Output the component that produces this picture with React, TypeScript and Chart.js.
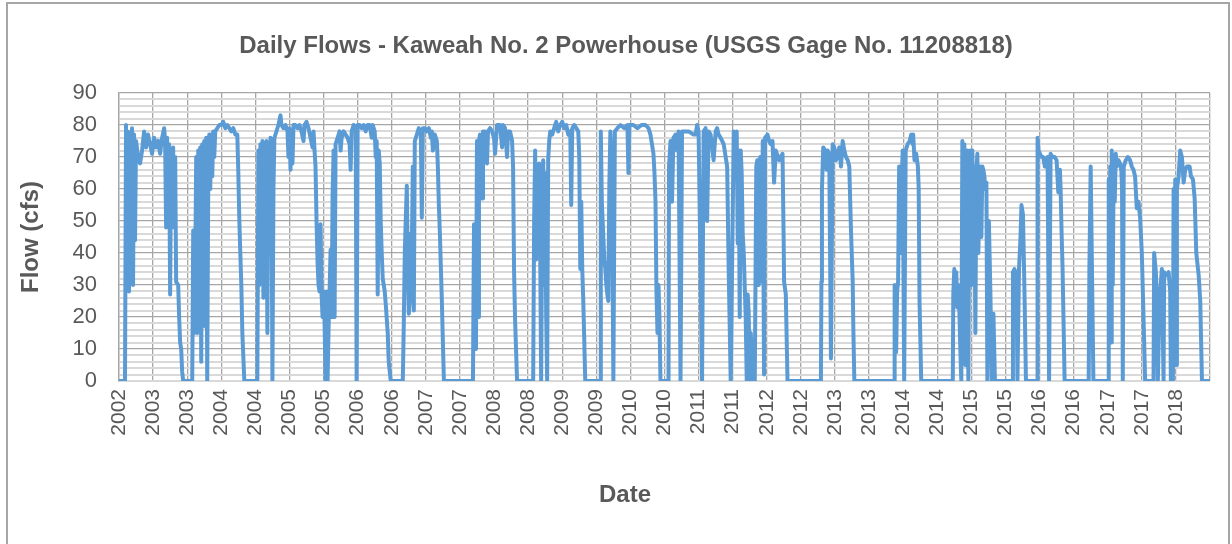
import React, { useEffect, useRef } from "react";
import { Chart, registerables } from "chart.js";

Chart.register(...registerables);

const chartTitle = "Daily Flows - Kaweah No. 2 Powerhouse (USGS Gage No. 11208818)";
const yAxisTitle = "Flow (cfs)";
const xAxisTitle = "Date";

const tickLabels = [
  "2002", "2003", "2003", "2004", "2004", "2005", "2005", "2006", "2006", "2007", "2007",
  "2008", "2008", "2009", "2009", "2010", "2010", "2011", "2011", "2012", "2012", "2013",
  "2013", "2014", "2014", "2015", "2015", "2016", "2016", "2017", "2017", "2018",
];
const axisStart = 2002.75; // Oct 2002
const axisEnd = 2018.75; // Oct 2018
const tickStepYears = 0.5;
const yMin = 0;
const yMax = 90;
const yMinorStep = 2;
const yMajorStep = 10;

// Daily flow (cfs), dates as decimal years, grouped by water year
const wy2003Years = [2002.75, 2002.838, 2002.853, 2002.868, 2002.882, 2002.897, 2002.912, 2002.926, 2002.941, 2002.956, 2002.971, 2002.985, 2003.0, 2003.029, 2003.059, 2003.088, 2003.118, 2003.147, 2003.176, 2003.206, 2003.235, 2003.265, 2003.294, 2003.324, 2003.353, 2003.382, 2003.412, 2003.426, 2003.441, 2003.456, 2003.471, 2003.485, 2003.5, 2003.515, 2003.529, 2003.544, 2003.559, 2003.574, 2003.588, 2003.618, 2003.632, 2003.647, 2003.662, 2003.676, 2003.691];
const wy2003Flows = [0, 0, 80, 30, 78, 28, 76, 45, 79, 30, 77, 44, 75, 70, 68, 72, 78, 73, 77, 74, 71, 76, 73, 75, 71, 76, 79, 75, 48, 76, 50, 74, 27, 72, 50, 73, 48, 70, 31, 30, 20, 12, 10, 3, 0];

const wy2004Years = [2003.824, 2003.838, 2003.853, 2003.868, 2003.882, 2003.897, 2003.912, 2003.926, 2003.941, 2003.956, 2003.971, 2003.985, 2004.0, 2004.015, 2004.029, 2004.044, 2004.059, 2004.074, 2004.088, 2004.103, 2004.118, 2004.132, 2004.147, 2004.162, 2004.191, 2004.221, 2004.25, 2004.279, 2004.309, 2004.338, 2004.368, 2004.397, 2004.426, 2004.456, 2004.485, 2004.5, 2004.515, 2004.529, 2004.544, 2004.559, 2004.588];
const wy2004Flows = [0, 47, 15, 35, 70, 15, 72, 17, 73, 6, 74, 20, 75, 17, 76, 0, 62, 77, 60, 77, 64, 78, 70, 78, 79, 80, 80, 81, 79, 80, 79, 78, 79, 77, 77, 65, 50, 40, 30, 15, 0];

const wy2005Years = [2004.779, 2004.794, 2004.809, 2004.824, 2004.838, 2004.853, 2004.868, 2004.882, 2004.897, 2004.912, 2004.926, 2004.941, 2004.956, 2004.971, 2004.985, 2005.0, 2005.015, 2005.029, 2005.059, 2005.088, 2005.118, 2005.132, 2005.162, 2005.191, 2005.221, 2005.235, 2005.25, 2005.265, 2005.279, 2005.294, 2005.309, 2005.338, 2005.368, 2005.397, 2005.426, 2005.456, 2005.471, 2005.5, 2005.529, 2005.559, 2005.588, 2005.603, 2005.618, 2005.632, 2005.647, 2005.662, 2005.676, 2005.691, 2005.706, 2005.721, 2005.735];
const wy2005Flows = [0, 72, 30, 74, 45, 75, 26, 73, 50, 75, 15, 74, 40, 76, 70, 0, 60, 76, 78, 80, 83, 80, 79, 80, 78, 70, 79, 66, 78, 68, 80, 80, 79, 80, 78, 75, 80, 81, 79, 76, 73, 78, 72, 67, 50, 37, 30, 28, 49, 27, 20];

const wy2006Years = [2005.75, 2005.765, 2005.779, 2005.794, 2005.809, 2005.824, 2005.838, 2005.853, 2005.868, 2005.882, 2005.897, 2005.912, 2005.926, 2005.956, 2005.985, 2006.0, 2006.015, 2006.044, 2006.074, 2006.103, 2006.132, 2006.147, 2006.162, 2006.191, 2006.221, 2006.235, 2006.25, 2006.279, 2006.309, 2006.338, 2006.368, 2006.397, 2006.426, 2006.456, 2006.471, 2006.5, 2006.515, 2006.529, 2006.544, 2006.559, 2006.574, 2006.588, 2006.603, 2006.618, 2006.647, 2006.662, 2006.691, 2006.706, 2006.735];
const wy2006Flows = [28, 18, 0, 28, 0, 17, 28, 41, 20, 58, 72, 20, 74, 76, 78, 72, 76, 78, 77, 76, 74, 66, 78, 80, 79, 0, 80, 80, 79, 80, 78, 80, 80, 76, 80, 78, 70, 75, 27, 72, 68, 50, 40, 32, 28, 24, 15, 6, 0];

const wy2007Years = [2006.912, 2006.926, 2006.941, 2006.956, 2006.971, 2006.985, 2007.0, 2007.015, 2007.029, 2007.044, 2007.059, 2007.074, 2007.088, 2007.118, 2007.147, 2007.176, 2007.191, 2007.206, 2007.235, 2007.265, 2007.294, 2007.324, 2007.338, 2007.353, 2007.382, 2007.412, 2007.426, 2007.441, 2007.456, 2007.471, 2007.485, 2007.5, 2007.515];
const wy2007Flows = [0, 17, 40, 51, 61, 35, 21, 25, 46, 40, 67, 22, 75, 77, 79, 78, 51, 79, 79, 78, 79, 76, 78, 72, 77, 75, 67, 55, 46, 35, 25, 12, 0];

const wy2008Years = [2007.941, 2007.956, 2007.971, 2007.985, 2008.0, 2008.015, 2008.029, 2008.044, 2008.059, 2008.074, 2008.088, 2008.118, 2008.147, 2008.162, 2008.191, 2008.221, 2008.25, 2008.265, 2008.294, 2008.338, 2008.368, 2008.382, 2008.412, 2008.441, 2008.456, 2008.485, 2008.515, 2008.529, 2008.544, 2008.559, 2008.588];
const wy2008Flows = [0, 49, 49, 10, 75, 20, 75, 77, 60, 57, 78, 78, 68, 78, 79, 78, 76, 71, 80, 80, 73, 80, 79, 70, 78, 78, 75, 67, 34, 19, 0];

const wy2009Years = [2008.824, 2008.838, 2008.853, 2008.868, 2008.882, 2008.897, 2008.912, 2008.926, 2008.941, 2008.956, 2008.971, 2008.985, 2009.0, 2009.015, 2009.029, 2009.044, 2009.059, 2009.074, 2009.103, 2009.132, 2009.162, 2009.191, 2009.221, 2009.25, 2009.279, 2009.309, 2009.338, 2009.368, 2009.382, 2009.397, 2009.426, 2009.456, 2009.485, 2009.5, 2009.515, 2009.529, 2009.544, 2009.559, 2009.588];
const wy2009Flows = [0, 50, 72, 38, 60, 40, 68, 43, 0, 50, 69, 30, 65, 20, 0, 69, 75, 78, 77, 79, 81, 78, 80, 81, 79, 80, 77, 78, 55, 79, 80, 79, 78, 70, 35, 56, 35, 25, 0];

const wy2010Years = [2009.809, 2009.816, 2009.831, 2009.853, 2009.868, 2009.882, 2009.897, 2009.912, 2009.926, 2009.941, 2009.956, 2009.978, 2010.0, 2010.022, 2010.059, 2010.103, 2010.162, 2010.206, 2010.221, 2010.235, 2010.294, 2010.353, 2010.412, 2010.471, 2010.515, 2010.544, 2010.588, 2010.603, 2010.618, 2010.632, 2010.647, 2010.662, 2010.676, 2010.691];
const wy2010Flows = [0, 78, 56, 45, 38, 35, 30, 27, 25, 61, 78, 67, 0, 78, 79, 80, 79, 80, 65, 80, 80, 79, 80, 80, 79, 77, 71, 65, 56, 28, 15, 30, 20, 0];

const wy2011Years = [2010.809, 2010.816, 2010.838, 2010.86, 2010.882, 2010.912, 2010.934, 2010.956, 2010.985, 2011.007, 2011.059, 2011.103, 2011.176, 2011.206, 2011.228, 2011.25, 2011.301, 2011.324, 2011.353, 2011.375, 2011.397, 2011.426, 2011.449, 2011.471, 2011.5, 2011.522, 2011.544, 2011.574, 2011.618, 2011.669, 2011.691, 2011.721];
const wy2011Flows = [0, 67, 75, 56, 76, 77, 72, 78, 0, 78, 78, 78, 77, 77, 80, 78, 0, 78, 79, 50, 78, 77, 73, 69, 78, 79, 77, 76, 74, 67, 35, 0];

const wy2012Years = [2011.765, 2011.794, 2011.809, 2011.824, 2011.838, 2011.853, 2011.868, 2011.882, 2011.897, 2011.912, 2011.926, 2011.941, 2011.956, 2011.971, 2011.985, 2012.0, 2012.015, 2012.044, 2012.074, 2012.096, 2012.11, 2012.132, 2012.154, 2012.176, 2012.191, 2012.21, 2012.225, 2012.26, 2012.284, 2012.309, 2012.334, 2012.357, 2012.382, 2012.431, 2012.481, 2012.497, 2012.504, 2012.529, 2012.554];
const wy2012Flows = [78, 71, 78, 43, 72, 20, 72, 65, 46, 40, 30, 20, 0, 27, 21, 0, 15, 0, 0, 67, 69, 30, 70, 31, 75, 2, 76, 77, 75, 74, 75, 62, 72, 69, 71, 45, 31, 27, 0];

const wy2013Years = [2013.044, 2013.051, 2013.059, 2013.078, 2013.107, 2013.128, 2013.143, 2013.166, 2013.191, 2013.216, 2013.24, 2013.265, 2013.29, 2013.313, 2013.338, 2013.363, 2013.387, 2013.412, 2013.437, 2013.46, 2013.485, 2013.51, 2013.519, 2013.534];
const wy2013Flows = [0, 31, 60, 73, 72, 66, 72, 71, 7, 74, 73, 69, 71, 73, 67, 75, 72, 70, 69, 67, 47, 31, 17, 0];

const wy2014Years = [2014.118, 2014.125, 2014.14, 2014.147, 2014.162, 2014.176, 2014.191, 2014.206, 2014.221, 2014.243, 2014.265, 2014.287, 2014.316, 2014.346, 2014.368, 2014.39, 2014.397, 2014.416, 2014.441, 2014.466, 2014.478, 2014.49, 2014.515];
const wy2014Flows = [0, 30, 20, 9, 28, 31, 67, 40, 57, 72, 0, 72, 74, 75, 77, 74, 77, 69, 71, 67, 60, 25, 0];

const wy2015Years = [2014.978, 2014.985, 2015.0, 2015.015, 2015.029, 2015.044, 2015.059, 2015.074, 2015.088, 2015.103, 2015.118, 2015.132, 2015.147, 2015.162, 2015.176, 2015.191, 2015.206, 2015.221, 2015.235, 2015.25, 2015.265, 2015.279, 2015.294, 2015.309, 2015.324, 2015.338, 2015.353, 2015.368, 2015.382, 2015.397, 2015.412, 2015.426, 2015.441, 2015.456, 2015.471, 2015.485, 2015.507, 2015.529, 2015.551, 2015.574, 2015.596];
const wy2015Flows = [0, 27, 35, 25, 34, 23, 30, 22, 10, 0, 75, 20, 74, 5, 44, 72, 0, 67, 72, 30, 72, 44, 67, 15, 65, 71, 40, 58, 67, 45, 67, 66, 64, 60, 62, 0, 50, 28, 0, 21, 0];

const wy2016Years = [2015.853, 2015.86, 2015.882, 2015.912, 2015.926, 2015.949, 2015.971, 2015.985, 2016.007, 2016.029, 2016.051, 2016.213, 2016.221, 2016.235, 2016.257, 2016.279, 2016.304, 2016.328, 2016.353, 2016.368, 2016.39, 2016.412, 2016.441, 2016.471, 2016.5, 2016.525, 2016.549, 2016.559, 2016.574, 2016.588, 2016.618];
const wy2016Flows = [0, 34, 35, 33, 0, 35, 45, 55, 52, 28, 0, 0, 76, 72, 71, 70, 70, 67, 69, 70, 0, 71, 70, 70, 69, 59, 66, 60, 46, 35, 0];

const wy2017Years = [2016.971, 2016.981, 2017.0, 2017.019, 2017.04, 2017.257, 2017.265, 2017.279, 2017.287, 2017.301, 2017.309, 2017.324, 2017.338, 2017.353, 2017.368, 2017.382, 2017.407, 2017.431, 2017.449, 2017.46, 2017.471, 2017.485, 2017.515, 2017.544, 2017.578, 2017.603, 2017.628, 2017.651, 2017.676, 2017.701, 2017.725, 2017.75, 2017.775, 2017.799];
const wy2017Flows = [0, 35, 67, 35, 0, 0, 63, 20, 67, 12, 72, 30, 70, 56, 71, 67, 69, 68, 66, 60, 0, 67, 69, 70, 69, 67, 66, 64, 54, 56, 51, 40, 20, 0];

const wy2018Years = [2017.922, 2017.931, 2017.956, 2017.971, 2017.985, 2018.01, 2018.044, 2018.069, 2018.078, 2018.107, 2018.143, 2018.166, 2018.176, 2018.206, 2018.216, 2018.228, 2018.24, 2018.253, 2018.265, 2018.29, 2018.313, 2018.338, 2018.363, 2018.387, 2018.412, 2018.451, 2018.471, 2018.5, 2018.525, 2018.549, 2018.584, 2018.607, 2018.632, 2018.75];
const wy2018Flows = [0, 40, 34, 26, 0, 25, 35, 0, 34, 33, 34, 28, 0, 0, 60, 10, 63, 5, 60, 64, 72, 70, 62, 66, 67, 67, 64, 63, 57, 40, 33, 25, 0, 0];

const yearGroups = [
  wy2003Years, wy2004Years, wy2005Years, wy2006Years, wy2007Years, wy2008Years, wy2009Years, wy2010Years,
  wy2011Years, wy2012Years, wy2013Years, wy2014Years, wy2015Years, wy2016Years, wy2017Years, wy2018Years,
];
const flowGroups = [
  wy2003Flows, wy2004Flows, wy2005Flows, wy2006Flows, wy2007Flows, wy2008Flows, wy2009Flows, wy2010Flows,
  wy2011Flows, wy2012Flows, wy2013Flows, wy2014Flows, wy2015Flows, wy2016Flows, wy2017Flows, wy2018Flows,
];

const FONT = "'Liberation Sans', Arial, Helvetica, sans-serif";
const TEXT = "#595959";
const MAJOR = "#a6a6a6";
const MINOR = "#d9d9d9";

export default function App() {
  const canvasRef = useRef<HTMLCanvasElement>(null);

  useEffect(() => {
    const points: { x: number; y: number }[] = [];
    yearGroups.forEach((ys, g) => {
      const fs = flowGroups[g];
      if (ys.length !== fs.length) throw new Error(`group ${g}: ${ys.length} vs ${fs.length}`);
      ys.forEach((x, i) => points.push({ x, y: fs[i] }));
    });

    const xTickValues = [...tickLabels.map((_, i) => axisStart + i * tickStepYears), axisEnd];
    const yTickValues: number[] = [];
    for (let v = yMin; v <= yMax; v += yMinorStep) yTickValues.push(v);

    Chart.defaults.font.family = FONT;
    const chart = new Chart(canvasRef.current as HTMLCanvasElement, {
      type: "line",
      data: {
        datasets: [
          {
            data: points,
            borderColor: "#5b9bd5",
            backgroundColor: "#5b9bd5",
            borderWidth: 4,
            pointRadius: 0,
            tension: 0,
            fill: false,
            borderJoinStyle: "round",
            borderCapStyle: "round",
          },
        ],
      },
      options: {
        responsive: false,
        animation: false,
        devicePixelRatio: 1,
        events: [],
        layout: { padding: { top: 93, right: 22, bottom: 0, left: 0 } },
        plugins: {
          legend: { display: false },
          tooltip: { enabled: false },
          title: { display: false },
        },
        scales: {
          x: {
            type: "linear",
            min: axisStart,
            max: axisEnd,
            afterBuildTicks: (scale: any) => {
              scale.ticks = xTickValues.map((value) => ({ value }));
            },
            afterFit: (scale: any) => {
              scale.height = 163;
              scale.paddingLeft = 0;
              scale.paddingRight = 0;
            },
            ticks: {
              autoSkip: false,
              minRotation: 90,
              maxRotation: 90,
              padding: 8,
              color: TEXT,
              font: { family: FONT, size: 21 },
              callback: (_v: any, index: number) => tickLabels[index] ?? "",
            },
            grid: { color: MAJOR, lineWidth: 1.3, drawTicks: false },
            border: { display: true, color: MINOR, width: 2 },
            title: { display: false, text: xAxisTitle },
          },
          y: {
            type: "linear",
            min: yMin,
            max: yMax,
            afterBuildTicks: (scale: any) => {
              scale.ticks = yTickValues.map((value) => ({ value }));
            },
            afterFit: (scale: any) => {
              scale.width = 119;
              scale.paddingTop = 0;
              scale.paddingBottom = 0;
            },
            ticks: {
              autoSkip: false,
              padding: 22,
              color: TEXT,
              font: { family: FONT, size: 22 },
              callback: (v: any) => (Number(v) % yMajorStep === 0 ? String(v) : ""),
            },
            grid: {
              drawTicks: false,
              color: (ctx: any) => (ctx.tick && ctx.tick.value % yMajorStep === 0 ? MAJOR : MINOR),
              lineWidth: (ctx: any) => (ctx.tick && ctx.tick.value % yMajorStep === 0 ? 1.3 : 2),
            },
            border: { display: true, color: MAJOR, width: 1.3 },
            title: {
              display: true,
              text: yAxisTitle,
              color: TEXT,
              font: { family: FONT, size: 24, weight: "bold" },
              padding: { top: 17, bottom: 0 },
            },
          },
        },
      },
    } as any);
    return () => chart.destroy();
  }, []);

  return (
    <div
      style={{
        position: "absolute",
        left: 0,
        top: 0,
        width: 1232,
        height: 544,
        overflow: "hidden",
        background: "#ffffff",
        fontFamily: FONT,
      }}
    >
      <div
        style={{
          position: "absolute",
          left: 6,
          top: 2,
          width: 1224,
          height: 600,
          border: "2px solid #a6a6a6",
          boxSizing: "border-box",
        }}
      />
      <canvas
        ref={canvasRef}
        width={1232}
        height={544}
        style={{ position: "absolute", left: 0, top: 0, width: 1232, height: 544 }}
      />
      <div
        style={{
          position: "absolute",
          left: 0,
          width: 1252,
          top: 31,
          textAlign: "center",
          fontSize: 24,
          lineHeight: "28px",
          fontWeight: "bold",
          color: TEXT,
          whiteSpace: "nowrap",
        }}
      >
        {chartTitle}
      </div>
      <div
        style={{
          position: "absolute",
          left: 0,
          width: 1250,
          top: 480,
          textAlign: "center",
          fontSize: 24,
          lineHeight: "28px",
          fontWeight: "bold",
          color: TEXT,
          whiteSpace: "nowrap",
        }}
      >
        {xAxisTitle}
      </div>
    </div>
  );
}
